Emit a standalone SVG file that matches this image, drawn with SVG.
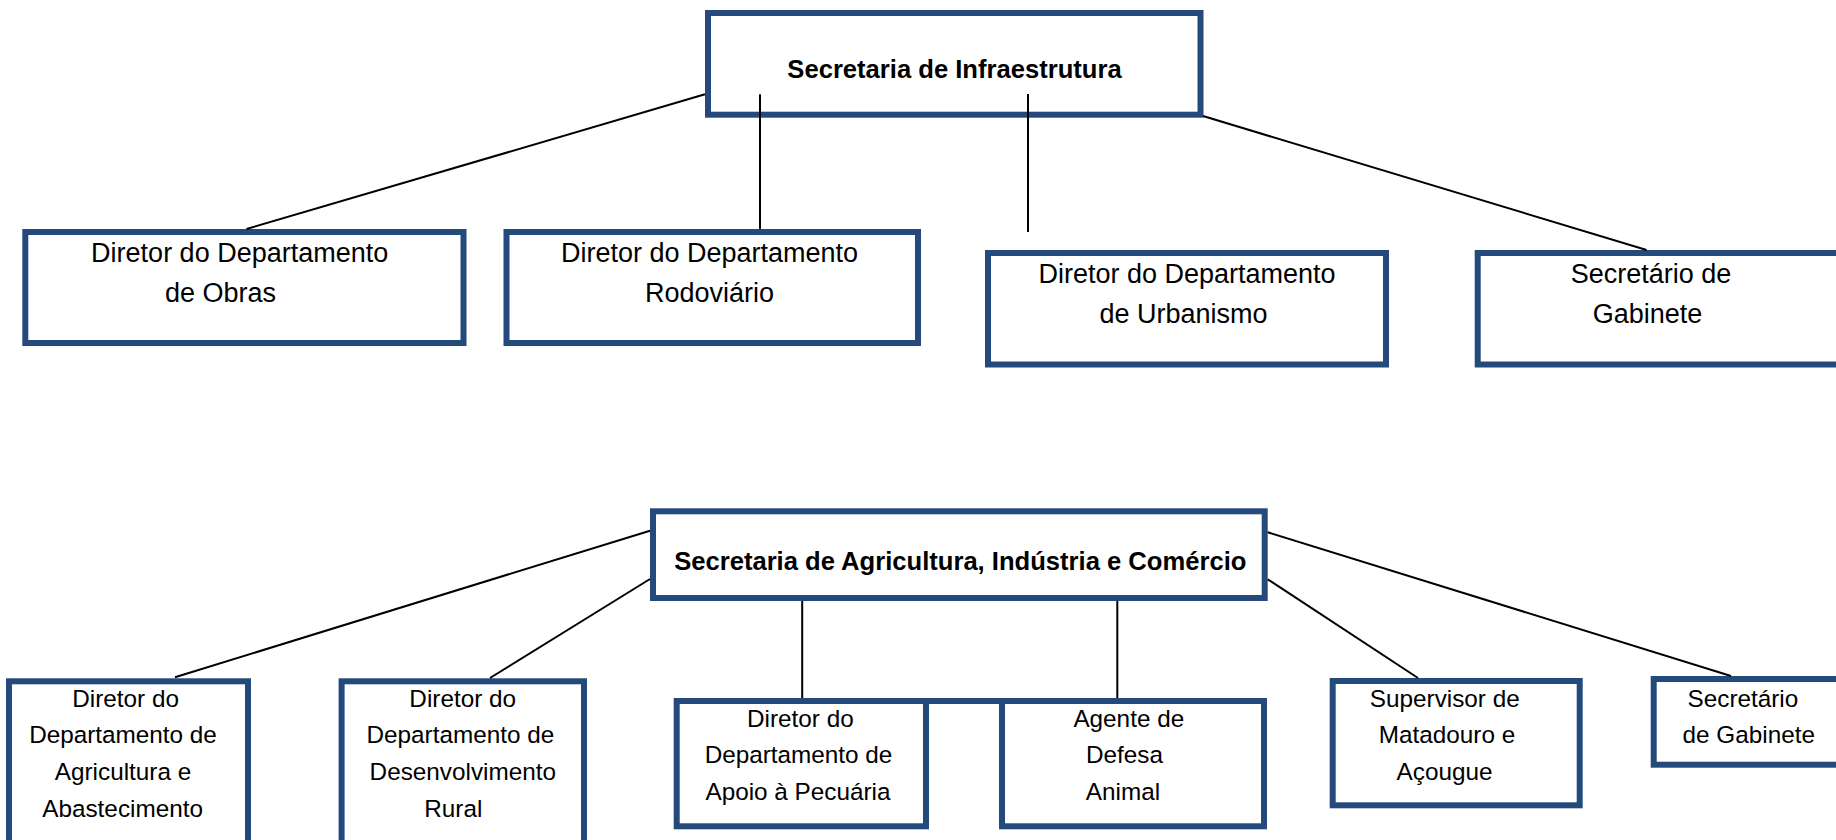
<svg xmlns="http://www.w3.org/2000/svg" width="1836" height="840" viewBox="0 0 1836 840">
<style>
.box{fill:#fff;stroke:#244a7b;stroke-width:6}
.c{stroke:#000;stroke-width:2;fill:none}
.t{font-family:"Liberation Sans",Arial,sans-serif;font-size:27px;fill:#000;text-anchor:middle}
.s{font-family:"Liberation Sans",Arial,sans-serif;font-size:24.3px;fill:#000;text-anchor:middle}
.b{font-family:"Liberation Sans",Arial,sans-serif;font-weight:bold;font-size:25.6px;fill:#000;text-anchor:middle}
</style>
<rect width="1836" height="840" fill="#fff"/>
<g id="infra">
<rect class="box" x="708" y="13" width="492.5" height="101.7"/>
<text class="b" x="954.5" y="78.3">Secretaria de Infraestrutura</text>
</g>
<g id="obras">
<rect class="box" x="25.3" y="232" width="438.2" height="111"/>
<text class="t" x="239.7" y="262">Diretor do Departamento</text>
<text class="t" x="220.6" y="302">de Obras</text>
</g>
<g id="rodoviario">
<rect class="box" x="506.5" y="232" width="411.5" height="111"/>
<text class="t" x="709.5" y="262">Diretor do Departamento</text>
<text class="t" x="709.5" y="302">Rodoviário</text>
</g>
<g id="urbanismo">
<rect class="box" x="988" y="253" width="398" height="111.5"/>
<text class="t" x="1187" y="283">Diretor do Departamento</text>
<text class="t" x="1183.6" y="323">de Urbanismo</text>
</g>
<g id="gabinete1">
<rect class="box" x="1477.7" y="253" width="370" height="111.5"/>
<text class="t" x="1651" y="283">Secretário de</text>
<text class="t" x="1647.6" y="323">Gabinete</text>
</g>
<g id="agricultura">
<rect class="box" x="653" y="511.3" width="611.7" height="86.7"/>
<text class="b" x="960.3" y="570">Secretaria de Agricultura, Indústria e Comércio</text>
</g>
<g id="abastecimento">
<rect class="box" x="9" y="681.3" width="239" height="170"/>
<text class="s" x="125.6" y="706.7">Diretor do</text>
<text class="s" x="123" y="742.7">Departamento de</text>
<text class="s" x="123" y="780">Agricultura e</text>
<text class="s" x="122.6" y="816.7">Abastecimento</text>
</g>
<g id="desenvolvimento">
<rect class="box" x="341.6" y="681.3" width="242.4" height="170"/>
<text class="s" x="462.7" y="706.7">Diretor do</text>
<text class="s" x="460.4" y="742.7">Departamento de</text>
<text class="s" x="462.8" y="780">Desenvolvimento</text>
<text class="s" x="453.3" y="816.7">Rural</text>
</g>
<g id="pecuaria">
<rect class="box" x="676.7" y="701" width="249.3" height="125.3"/>
<line x1="926" y1="701" x2="1002" y2="701" stroke="#244a7b" stroke-width="6"/>
<text class="s" x="800.4" y="726.7">Diretor do</text>
<text class="s" x="798.5" y="762.7">Departamento de</text>
<text class="s" x="798" y="800">Apoio à Pecuária</text>
</g>
<g id="defesa">
<rect class="box" x="1002" y="701" width="262" height="125.3"/>
<text class="s" x="1128.8" y="726.7">Agente de</text>
<text class="s" x="1124.5" y="762.7">Defesa</text>
<text class="s" x="1123" y="800">Animal</text>
</g>
<g id="matadouro">
<rect class="box" x="1332.7" y="681" width="247" height="124.3"/>
<text class="s" x="1444.8" y="706.7">Supervisor de</text>
<text class="s" x="1447" y="742.7">Matadouro e</text>
<text class="s" x="1444.5" y="780">Açougue</text>
</g>
<g id="gabinete2">
<rect class="box" x="1653.7" y="679" width="200" height="85.7"/>
<text class="s" x="1742.9" y="706.7">Secretário</text>
<text class="s" x="1748.8" y="743">de Gabinete</text>
</g>
<g id="connectors">
<line class="c" x1="705" y1="94.3" x2="246.5" y2="229"/>
<line class="c" x1="760" y1="94.3" x2="760" y2="229" stroke-width="1.6"/>
<line class="c" x1="1028" y1="94" x2="1028" y2="232" stroke-width="1.6"/>
<line class="c" x1="1203" y1="116" x2="1646.6" y2="250"/>
<line class="c" x1="650" y1="530.7" x2="175" y2="677.3"/>
<line class="c" x1="650" y1="579" x2="490" y2="678"/>
<line class="c" x1="802.2" y1="601" x2="802.2" y2="698"/>
<line class="c" x1="1117.3" y1="601" x2="1117.3" y2="698"/>
<line class="c" x1="1267.7" y1="532.3" x2="1731" y2="676"/>
<line class="c" x1="1267.7" y1="579.3" x2="1418" y2="678"/>
</g>
</svg>
